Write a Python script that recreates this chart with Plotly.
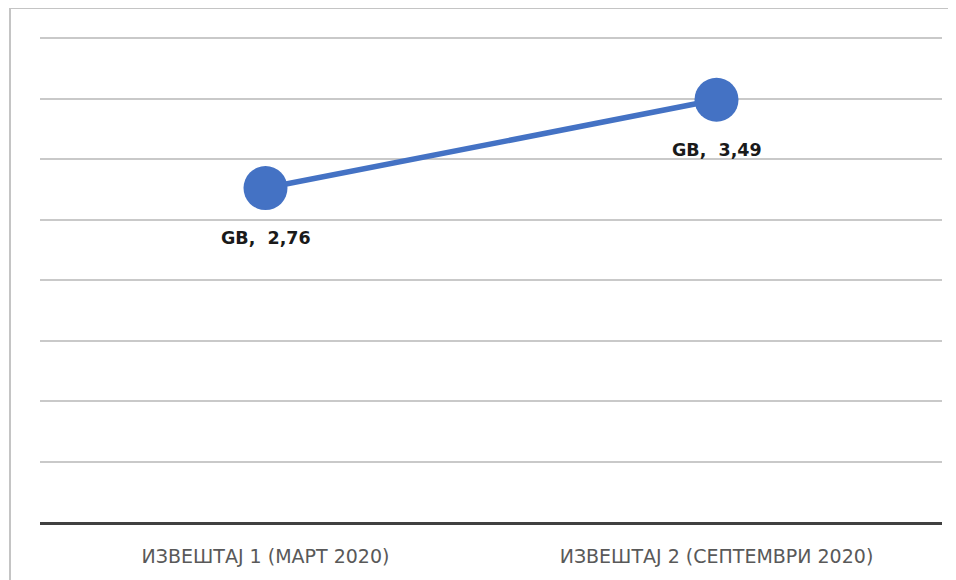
import plotly.graph_objects as go

categories = ["ИЗВЕШТАЈ 1 (МАРТ 2020)", "ИЗВЕШТАЈ 2 (СЕПТЕМВРИ 2020)"]
values = [2.76, 3.49]
unit = "GB"
label_texts = [f"{unit},\u00a0 {str(v).replace('.', ',')}" for v in values]

BLUE = "#4472C4"
FONT = "DejaVu Sans"

fig = go.Figure()
fig.add_trace(go.Scatter(
    x=categories, y=values, mode="lines+markers",
    line=dict(color=BLUE, width=5.5),
    marker=dict(color=BLUE, size=44),
    hoverinfo="skip", showlegend=False, cliponaxis=False,
))

for c, v, t in zip(categories, values, label_texts):
    fig.add_annotation(
        x=c, y=v, text=f"<b>{t}</b>", showarrow=False,
        yshift=-50, font=dict(family=FONT, size=17.5, color="#1a1a1a"),
    )

# page has an 8px body margin; figure is sized to compensate
W, H = 948, 572
ml, mr, mt, mb = 32, 14, 24, 58
pw, ph = W - ml - mr, H - mt - mb
# chart-area border (top + left visible)
fig.add_shape(
    type="rect", xref="paper", yref="paper", layer="below",
    x0=(2 - ml) / pw, x1=(W + 20 - ml) / pw,
    y0=-(mb + 20) / ph, y1=1 + mt / ph,
    line=dict(color="#c4c4c4", width=2), fillcolor="rgba(0,0,0,0)",
)

fig.update_layout(
    width=W, height=H,
    margin=dict(l=ml, r=mr, t=mt, b=mb),
    paper_bgcolor="white", plot_bgcolor="white",
    font=dict(family=FONT),
    xaxis=dict(
        type="category", range=[-0.5, 1.5],
        showgrid=False, zeroline=False,
        showline=True, linecolor="#404040", linewidth=3,
        ticks="outside", ticklen=15, tickcolor="rgba(0,0,0,0)",
        tickfont=dict(family=FONT, size=19, color="#595959"),
    ),
    yaxis=dict(
        range=[0, 4.05], dtick=0.5, showticklabels=False,
        showgrid=True, gridcolor="#c9c9c9", gridwidth=2,
        zeroline=False, showline=False,
    ),
)

fig.write_html("out.html")
